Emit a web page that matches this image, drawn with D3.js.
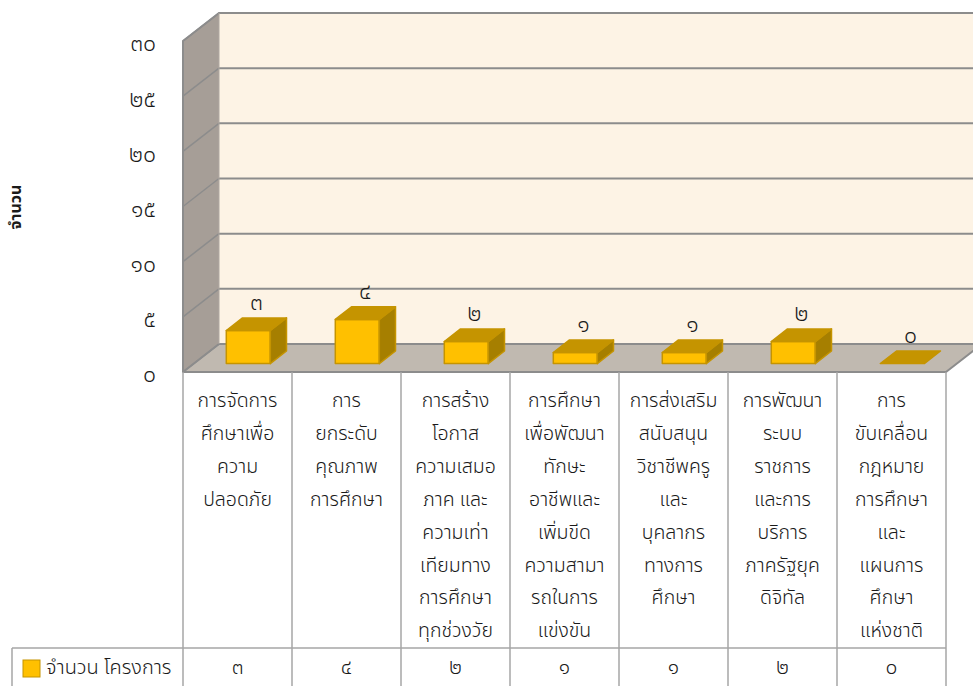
<!DOCTYPE html>
<html>
<head>
<meta charset="utf-8">
<script src="https://cdn.jsdelivr.net/npm/d3@7"></script>
<style>
  body { margin: 0; background: #fff; overflow: hidden; }
  svg { display: block; font-family: "Noto Sans Thai", "Leelawadee UI", "Tahoma", "Noto Sans", sans-serif; font-weight: 300; }
</style>
</head>
<body>
<svg id="chart" width="973" height="686"></svg>
<script>
const categories = [
  ["การจัดการ", "ศึกษาเพื่อ", "ความ", "ปลอดภัย"],
  ["การ", "ยกระดับ", "คุณภาพ", "การศึกษา"],
  ["การสร้าง", "โอกาส", "ความเสมอ", "ภาค และ", "ความเท่า", "เทียมทาง", "การศึกษา", "ทุกช่วงวัย"],
  ["การศึกษา", "เพื่อพัฒนา", "ทักษะ", "อาชีพและ", "เพิ่มขีด", "ความสามา", "รถในการ", "แข่งขัน"],
  ["การส่งเสริม", "สนับสนุน", "วิชาชีพครู", "และ", "บุคลากร", "ทางการ", "ศึกษา"],
  ["การพัฒนา", "ระบบ", "ราชการ", "และการ", "บริการ", "ภาครัฐยุค", "ดิจิทัล"],
  ["การ", "ขับเคลื่อน", "กฎหมาย", "การศึกษา", "และ", "แผนการ", "ศึกษา", "แห่งชาติ"]
];
const values = [3, 4, 2, 1, 1, 2, 0];
const seriesName = "จำนวน โครงการ";
const yTitle = "จำนวน";
const yTicks = [0, 5, 10, 15, 20, 25, 30];

const thaiDigits = "๐๑๒๓๔๕๖๗๘๙";
const toThai = (n) => String(n).replace(/[0-9]/g, (c) => thaiDigits[+c]);

const svg = d3.select("#chart");
const keys = categories.map((d, i) => i);

// depth of the 3D box
const depth = { dx: 36, dy: -28 };

const x = d3.scaleBand().domain(keys).range([183, 946]).paddingInner(0).paddingOuter(0);
const y = d3.scaleLinear().domain([0, 30]).range([372, 41]);

const gridColor = "#8c8c8c";
const tableColor = "#a6a6a6";
const textColor = "#1a1a1a";

const x0 = x.range()[0], x1 = x.range()[1];
const yBot = y(0), yTop = y(30);

// back wall
svg.append("polygon")
  .attr("points", [
    [x0 + depth.dx, yTop + depth.dy], [x1 + depth.dx, yTop + depth.dy],
    [x1 + depth.dx, yBot + depth.dy], [x0 + depth.dx, yBot + depth.dy]
  ].join(" "))
  .style("fill", "#fdf3e5");

// side wall
svg.append("polygon")
  .attr("points", [
    [x0, yTop], [x0 + depth.dx, yTop + depth.dy],
    [x0 + depth.dx, yBot + depth.dy], [x0, yBot]
  ].join(" "))
  .style("fill", "#a69e97");

// floor
svg.append("polygon")
  .attr("points", [
    [x0, yBot], [x0 + depth.dx, yBot + depth.dy],
    [x1 + depth.dx, yBot + depth.dy], [x1, yBot]
  ].join(" "))
  .style("fill", "#c0b9b0")
  .style("stroke", gridColor)
  .style("stroke-width", 2)
  .style("stroke-linejoin", "round");

// gridlines on the back wall and side wall
const grid = svg.append("g").attr("class", "grid");
grid.selectAll(".hline")
  .data(yTicks)
  .enter()
  .append("line")
  .attr("x1", x0 + depth.dx)
  .attr("x2", x1 + depth.dx)
  .attr("y1", (d) => y(d) + depth.dy)
  .attr("y2", (d) => y(d) + depth.dy)
  .style("stroke", gridColor)
  .style("stroke-width", 2);

grid.selectAll(".dline")
  .data(yTicks)
  .enter()
  .append("line")
  .attr("x1", x0)
  .attr("y1", (d) => y(d))
  .attr("x2", x0 + depth.dx)
  .attr("y2", (d) => y(d) + depth.dy)
  .style("stroke", gridColor)
  .style("stroke-width", 1.5);

// wall outline
svg.append("polyline")
  .attr("points", [
    [x0, yBot], [x0, yTop], [x0 + depth.dx, yTop + depth.dy], [x1 + depth.dx, yTop + depth.dy]
  ].join(" "))
  .style("fill", "none")
  .style("stroke", gridColor)
  .style("stroke-width", 2);
svg.append("line")
  .attr("x1", x0 + depth.dx).attr("x2", x0 + depth.dx)
  .attr("y1", yTop + depth.dy).attr("y2", yBot + depth.dy)
  .style("stroke", "#b0a9a2")
  .style("stroke-width", 1);

// y axis tick labels
svg.selectAll(".ytick")
  .data(yTicks)
  .enter()
  .append("text")
  .attr("x", 156)
  .attr("y", (d) => y(d) + 4)
  .attr("text-anchor", "end")
  .attr("dominant-baseline", "middle")
  .style("font-size", "23px")
  .style("fill", textColor)
  .text((d) => toThai(d));

// y axis title
svg.append("text")
  .attr("transform", "translate(17, 207) rotate(-90)")
  .attr("text-anchor", "middle")
  .attr("dominant-baseline", "middle")
  .style("font-size", "16px")
  .style("font-weight", "bold")
  .style("fill", textColor)
  .text(yTitle);

// bars
const barW = 44;
const f0 = 0.3, f1 = 0.45;
const off0 = { dx: depth.dx * f0, dy: depth.dy * f0 };
const bd = { dx: depth.dx * f1, dy: depth.dy * f1 };

const bx = (i) => x(i) + x.bandwidth() / 2 - barW / 2 + off0.dx;
const by0 = yBot + off0.dy;
const byT = (d) => y(d) + off0.dy;

const bars = svg.selectAll(".bar")
  .data(values)
  .enter()
  .append("g")
  .attr("class", "bar")
  .style("stroke", "#c59400")
  .style("stroke-width", 1.5)
  .style("stroke-linejoin", "round");

bars.each(function (d, i) {
  const g = d3.select(this);
  const l = bx(i), r = l + barW, t = byT(d), b = by0;
  if (d > 0) {
    g.append("rect")
      .attr("x", l).attr("y", t).attr("width", barW).attr("height", b - t)
      .style("fill", "#ffc000");
    g.append("polygon")
      .attr("points", [[r, t], [r + bd.dx, t + bd.dy], [r + bd.dx, b + bd.dy], [r, b]].join(" "))
      .style("fill", "#a67f00");
  }
  g.append("polygon")
    .attr("points", [[l, t], [l + bd.dx, t + bd.dy], [r + bd.dx, t + bd.dy], [r, t]].join(" "))
    .style("fill", "#c59400");
});

// data labels
svg.selectAll(".dlabel")
  .data(values)
  .enter()
  .append("text")
  .attr("x", (d, i) => bx(i) + barW / 2 + bd.dx / 2)
  .attr("y", (d) => byT(d) + bd.dy - 8)
  .attr("text-anchor", "middle")
  .style("font-size", "23px")
  .style("fill", textColor)
  .text((d) => toThai(d));

// data table
const tableTop = yBot, rowY = 648, tableBot = 700;
const table = svg.append("g")
  .style("stroke", tableColor)
  .style("stroke-width", 1.5);

table.selectAll(".vline")
  .data(d3.range(categories.length + 1))
  .enter()
  .append("line")
  .attr("x1", (i) => (i < categories.length ? x(i) : x1))
  .attr("x2", (i) => (i < categories.length ? x(i) : x1))
  .attr("y1", tableTop)
  .attr("y2", tableBot);

table.append("line").attr("x1", 12).attr("x2", x1).attr("y1", rowY).attr("y2", rowY);
table.append("line").attr("x1", 12).attr("x2", 12).attr("y1", rowY).attr("y2", tableBot);

// category labels
const catText = svg.selectAll(".cat")
  .data(categories)
  .enter()
  .append("text")
  .attr("text-anchor", "middle")
  .style("font-size", "19.5px")
  .style("fill", textColor);
catText.selectAll("tspan")
  .data((d, i) => d.map((line) => ({ line, i })))
  .enter()
  .append("tspan")
  .attr("x", (d) => x(d.i) + x.bandwidth() / 2)
  .attr("y", (d, j) => 407 + j * 32.9)
  .text((d) => d.line);

// legend row
svg.append("rect")
  .attr("x", 23).attr("y", 660).attr("width", 17).attr("height", 17)
  .style("fill", "#ffc000")
  .style("stroke", "#c59400")
  .style("stroke-width", 1);
svg.append("text")
  .attr("x", 46).attr("y", 668)
  .attr("dominant-baseline", "middle")
  .style("font-size", "20px")
  .style("fill", textColor)
  .text(seriesName);

svg.selectAll(".val")
  .data(values)
  .enter()
  .append("text")
  .attr("x", (d, i) => x(i) + x.bandwidth() / 2)
  .attr("y", 668)
  .attr("text-anchor", "middle")
  .attr("dominant-baseline", "middle")
  .style("font-size", "21px")
  .style("fill", textColor)
  .text((d) => toThai(d));
</script>
</body>
</html>
